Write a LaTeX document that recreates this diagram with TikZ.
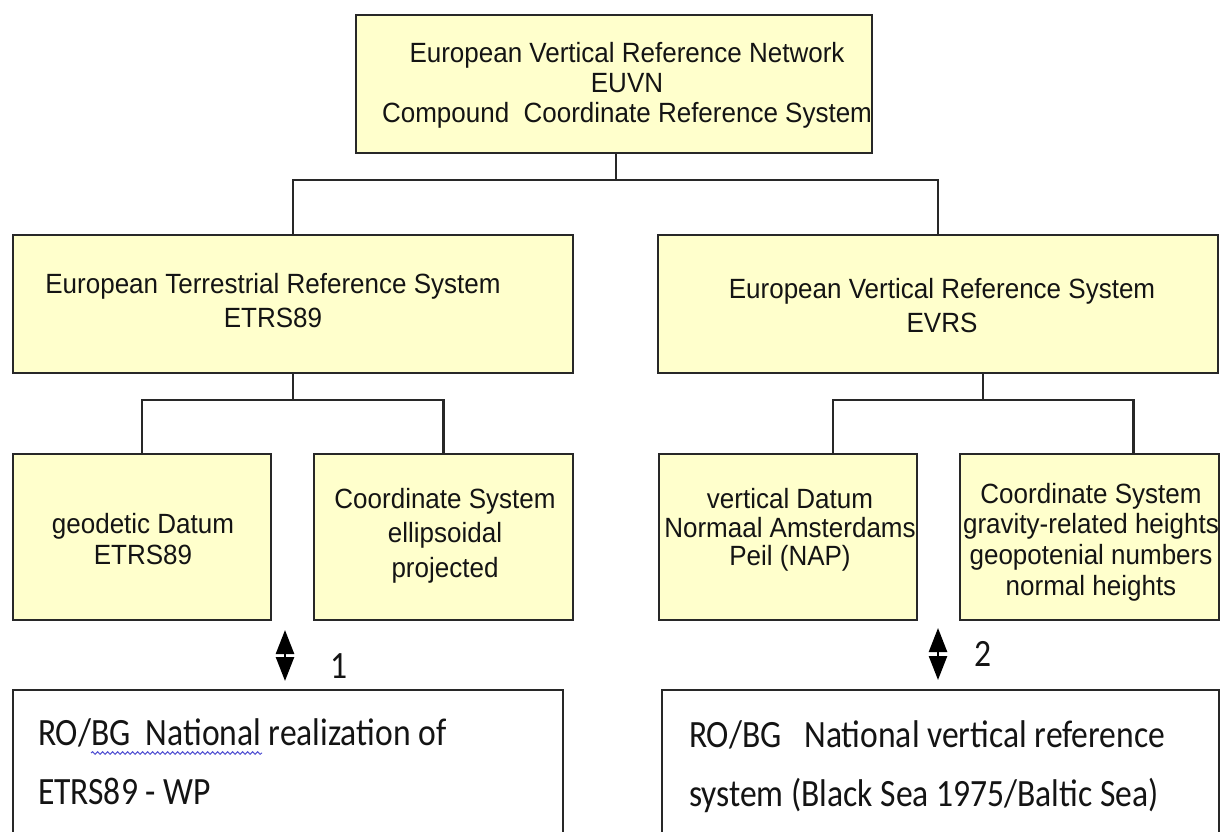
\documentclass[tikz,border=0pt]{standalone}
\usepackage{fontspec}
\setmainfont{Liberation Sans}
\newfontfamily\calibfont{Carlito}
\usetikzlibrary{arrows.meta,decorations.pathmorphing,calc}
\definecolor{boxfill}{RGB}{255,255,204}
\definecolor{edgecol}{RGB}{40,40,40}
\definecolor{txtcol}{RGB}{20,20,20}
\definecolor{spellcol}{RGB}{80,80,210}
\newcommand{\ytab}[2]{\scalebox{1}[1.07]{\fontsize{26}{#1}\selectfont\begin{tabular}[t]{@{}c@{}}#2\end{tabular}}}
\newcommand{\ctab}[1]{\scalebox{1}[1.15]{\calibfont\fontsize{33.6}{51.3}\selectfont\begin{tabular}[t]{@{}l@{}}#1\end{tabular}}}
\begin{document}
\begin{tikzpicture}[x=1pt,y=-1pt,
  basebox/.style={draw=edgecol, line width=2.2pt, rectangle, inner sep=0pt, outer sep=0pt, anchor=north west},
  ybox/.style={basebox, fill=boxfill},
  wbox/.style={basebox, fill=white},
  txt/.style={inner sep=0pt, outer sep=0pt, text=txtcol, anchor=base},
  link/.style={draw=edgecol, line width=2.2pt},
  dblarrow/.style={draw=black, line width=2.5pt, {Triangle[width=18pt,length=24pt]}-{Triangle[width=18pt,length=24pt]}}
]
\useasboundingbox (0,0) rectangle (1220,832);
\clip (0,0) rectangle (1220,832);

% boxes
\node[ybox, minimum width=516pt, minimum height=138pt] (top) at (356,15) {};
\node[ybox, minimum width=560pt, minimum height=138pt] (l2) at (13,235) {};
\node[ybox, minimum width=560pt, minimum height=138pt] (r2) at (658,235) {};
\node[ybox, minimum width=258pt, minimum height=166pt] (l3a) at (13,454) {};
\node[ybox, minimum width=259pt, minimum height=166pt] (l3b) at (314,454) {};
\node[ybox, minimum width=258pt, minimum height=166pt] (r3a) at (659,454) {};
\node[ybox, minimum width=259pt, minimum height=166pt] (r3b) at (960,454) {};
\node[wbox, minimum width=550pt, minimum height=160pt] (b1) at (13,690) {};
\node[wbox, minimum width=557pt, minimum height=160pt] (b2) at (662,690) {};

% texts
\node[txt] (t0) at (627,63) {\ytab{27.6}{European Vertical Reference Network\\EUVN\\Compound\ \ Coordinate Reference System}};
\node[txt] (t1) at (273,293) {\ytab{31.8}{European Terrestrial Reference System\\ETRS89}};
\node[txt] (t2) at (942,298) {\ytab{31.8}{European Vertical Reference System\\EVRS}};
\node[txt] (t3) at (143,533) {\ytab{29.9}{geodetic Datum\\ETRS89}};
\node[txt] (t4) at (445,508) {\ytab{32.7}{Coordinate System\\ellipsoidal\\projected}};
\node[txt] (t5) at (790,508) {\ytab{27.1}{vertical Datum\\Normaal Amsterdams\\Peil (NAP)}};
\node[txt] (t6) at (1091,503) {\ytab{28.7}{Coordinate System\\gravity-related heights\\geopotenial numbers\\normal heights}};
\node[txt, anchor=base west] (t7) at (38,745) {\ctab{RO/BG\ \ National realization of\\ETRS89 - WP}};
\node[txt, anchor=base west] (t8) at (689,747) {\ctab{RO/BG\ \ \ National vertical reference\\system (Black Sea 1975/Baltic Sea)}};
\node[txt] (n1) at (339,678) {\scalebox{1}[1.15]{\calibfont\fontsize{33.6}{40}\selectfont 1}};
\node[txt] (n2) at (983,666) {\scalebox{1}[1.15]{\calibfont\fontsize{33.6}{40}\selectfont 2}};

% spell-check underline
\draw[spellcol, line width=1pt, decorate, decoration={snake, amplitude=1.3pt, segment length=5pt}] (91,753) -- (262,753);

% connectors
\draw[link] ([xshift=2pt]top.south) -- ++(0,27) coordinate (j0);
\draw[link] (l2.north) |- (j0) -| (r2.north);
\draw[link] (l2.south) -- ++(0,27) coordinate (j1);
\draw[link] (l3a.north) |- (j1) -| (l3b.north);
\draw[link] ([xshift=45pt]r2.south) -- ++(0,27) coordinate (j2);
\draw[link] ([xshift=45pt]r3a.north) |- (j2) -| ([xshift=44pt]r3b.north);

% double arrows
\coordinate (a1t) at (285,630);
\coordinate (a2t) at (938,628);
\draw[dblarrow] (a1t) -- ($(a1t |- b1.north)+(0,-9)$);
\draw[dblarrow] (a2t) -- ($(a2t |- b2.north)+(0,-10)$);
\end{tikzpicture}
\end{document}
